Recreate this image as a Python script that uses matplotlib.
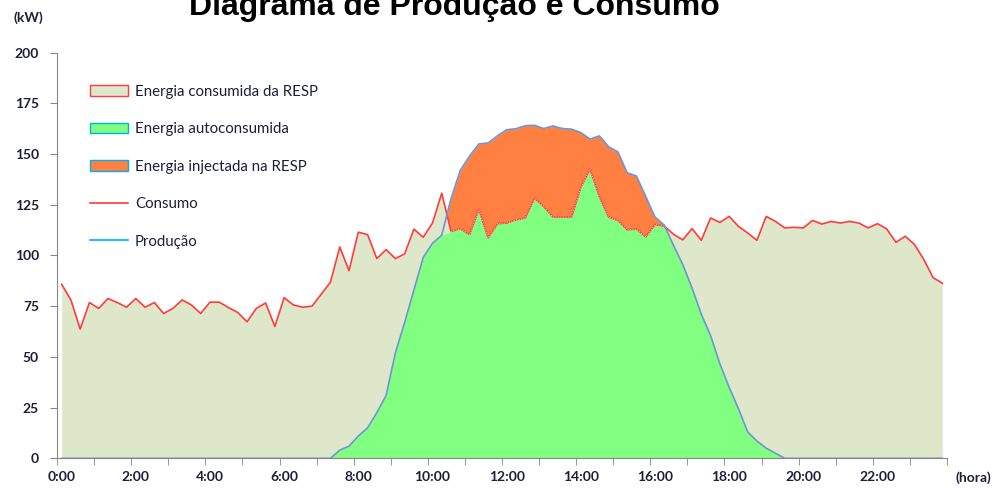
import numpy as np
import matplotlib
matplotlib.use('Agg')
import matplotlib.pyplot as plt
from matplotlib.patches import Patch
from matplotlib.lines import Line2D

# quarter-hour readings, 0:00 .. 23:45 (kW)
consumo = [
    85.8, 78.1, 63.7, 76.8, 73.9, 78.8, 76.8, 74.5,
    78.8, 74.5, 76.8, 71.4, 73.9, 78.1, 75.6, 71.4,
    77.0, 77.0, 74.3, 71.9, 67.3, 73.9, 76.6, 65.0,
    79.2, 75.6, 74.5, 75.0, 80.9, 86.9, 104.2, 92.5,
    111.5, 110.3, 98.5, 102.9, 98.5, 100.8, 113.0, 109.0,
    116.0, 130.7, 111.9, 113.3, 110.3, 123.0, 108.7, 115.7,
    116.0, 117.6, 118.5, 128.3, 124.2, 119.0, 119.0, 119.0,
    133.7, 142.6, 129.1, 119.0, 117.3, 112.7, 113.1, 109.2,
    115.3, 114.5, 110.5, 107.7, 113.3, 107.5, 118.5, 116.3,
    119.3, 114.4, 111.1, 107.5, 119.3, 116.8, 113.6, 113.9,
    113.6, 117.3, 115.5, 116.8, 116.0, 116.8, 116.0, 113.6,
    115.7, 113.1, 106.5, 109.5, 105.4, 98.0, 89.1, 86.3,
]
producao = [
    0, 0, 0, 0, 0, 0, 0, 0,
    0, 0, 0, 0, 0, 0, 0, 0,
    0, 0, 0, 0, 0, 0, 0, 0,
    0, 0, 0, 0, 0, 0, 4.0, 6.0,
    11.0, 15.0, 22.5, 31.0, 52.0, 67.0, 83.0, 99.0,
    106.0, 110.0, 128.0, 142.0, 149.0, 155.0, 155.5, 159.0,
    162.0, 162.5, 164.0, 164.2, 162.6, 163.9, 162.6, 162.3,
    160.6, 157.4, 159.0, 153.6, 151.1, 140.8, 139.2, 129.1,
    119.0, 115.0, 105.0, 95.5, 84.0, 71.0, 60.5, 46.6,
    35.0, 24.5, 13.0, 8.5, 5.0, 2.5, 0, 0,
    0, 0, 0, 0, 0, 0, 0, 0,
    0, 0, 0, 0, 0, 0, 0, 0,
]
hour_labels = ['%d:00' % h for h in range(0, 24, 2)]

C = np.array(consumo)
P = np.array(producao)
x = np.arange(len(C)) * 0.25

BEIGE = '#DFE7CB'
GREEN = '#80FF80'
ORANGE = '#FF8040'
RED = '#FF3B3B'
BLUE = '#6E95D4'
TXT = '#1E1E3C'

fig = plt.figure(figsize=(9.94, 4.88), dpi=100)
ax = fig.add_axes([57 / 994, 29.7 / 488, 890 / 994, 405.6 / 488])

ax.fill_between(x, 0, C, color=BEIGE, lw=0)
ax.fill_between(x, 0, np.minimum(P, C), color=GREEN, lw=0)
ax.fill_between(x, C, P, where=P > C, interpolate=True, color=ORANGE, lw=0)
ax.plot(x, C, color=RED, lw=1.2)
ax.plot(x, np.where(P > C, C, np.nan), color='white', lw=0.6, ls=(0, (1, 2)))
ax.plot(x, P, color=BLUE, lw=1.2)

ax.set_xlim(-0.125, 23.875)
ax.set_ylim(0, 200)

ax.set_yticks(np.arange(0, 201, 25))
ax.set_xticks(np.arange(0, 24, 2))
ax.set_xticklabels(hour_labels)
ax.set_xticks(np.arange(-0.125, 24, 1), minor=True)
ax.tick_params(axis='x', which='major', length=0, pad=9)
ax.tick_params(axis='x', which='minor', length=5, color='#868686')
ax.tick_params(axis='y', length=5, color='#868686', pad=8)
for lab in ax.get_xticklabels() + ax.get_yticklabels():
    lab.set_fontfamily('Lato')
    lab.set_fontweight('bold')
    lab.set_fontsize(10)
    lab.set_color(TXT)

for s in ['top', 'right']:
    ax.spines[s].set_visible(False)
for s in ['left', 'bottom']:
    ax.spines[s].set_color('#868686')

fig.text(454 / 994, 1 - 15 / 488, 'Diagrama de Produção e Consumo',
         ha='center', va='baseline', fontsize=23, fontweight='bold',
         family='Liberation Sans', color='black')
fig.text(14 / 994, 1 - 22 / 488, '(kW)', ha='left', va='baseline',
         fontsize=10, fontweight='bold', family='Lato', color=TXT)
fig.text(955 / 994, 1 - 482 / 488, '(hora)', ha='left', va='baseline',
         fontsize=10, fontweight='bold', family='Lato', color=TXT)

handles = [
    Patch(facecolor=BEIGE, edgecolor=RED, lw=1),
    Patch(facecolor=GREEN, edgecolor='#00B0F0', lw=1),
    Patch(facecolor=ORANGE, edgecolor='#00B0F0', lw=1),
    Line2D([], [], color=RED, lw=1.2),
    Line2D([], [], color='#00B0F0', lw=1.2),
]
labels = ['Energia consumida da RESP', 'Energia autoconsumida',
          'Energia injectada na RESP', 'Consumo', 'Produção']
leg = ax.legend(handles, labels, loc='upper left',
                bbox_to_anchor=((90 - 57) / 890, (458.3 - 85) / 405.6),
                frameon=False, borderpad=0, borderaxespad=0,
                handlelength=2.55, handletextpad=0.45, labelspacing=1.56,
                prop={'family': 'Lato', 'size': 10.8})
for t in leg.get_texts():
    t.set_color(TXT)

fig.savefig('out.png', dpi=100)
